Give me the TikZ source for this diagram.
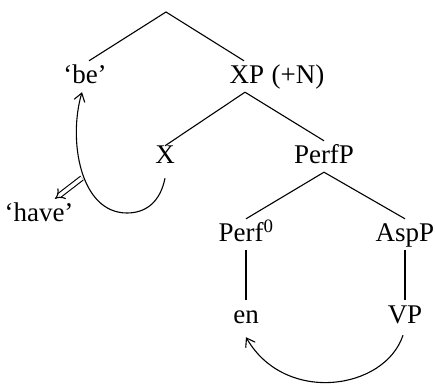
\documentclass[tikz,border=0pt]{standalone}
\usepackage{fontspec}
\setmainfont{Liberation Serif}
\usetikzlibrary{arrows.meta}
\begin{document}
\begin{tikzpicture}[x=1pt,y=1pt,
  lbl/.style={font=\fontsize{27}{32}\selectfont, inner xsep=2pt, inner ysep=3pt,
              text height=20pt, text depth=5pt, anchor=base},
  edge/.style={line width=1.1pt},
  mv/.style={line width=1.1pt, -{Straight Barb[length=8pt,width=11pt,line width=1.1pt]}},
  dbl/.style={double, double distance=3.5pt, line width=1.1pt, -{Implies[length=9pt,width=16pt]}}]
\useasboundingbox (0,0) rectangle (435,385);
% nodes
\coordinate (root) at (166,373);
\node[lbl] (be) at (85,301) {‘be’};
\node[lbl] (xp) at (247,301) {XP};
\node[lbl, anchor=base west, inner xsep=0pt] (xpn) at ([xshift=5pt]xp.base east) {(+N)};
\node[lbl] (x) at (165,221) {X};
\node[lbl] (perfp) at (324,221) {PerfP};
\node[lbl] (perf) at (246,143) {Perf\textsuperscript{0}};
\node[lbl] (asp) at (405,143) {AspP};
\node[lbl] (en) at (246,62) {en};
\node[lbl] (vp) at (405,62) {VP};
\node[lbl] (have) at (39,163) {‘have’};
% tree edges
\draw[edge] ([xshift=4pt]be.north) -- (root) -- ([xshift=-3pt]xp.north);
\draw[edge] ([xshift=-2pt]xp.south) -- ([yshift=-5pt]x.north);
\draw[edge] ([xshift=-2pt]xp.south) -- (perfp.north);
\draw[edge] (perf.north) -- (perfp.south) -- (asp.north);
\draw[edge] (perf.south) -- (en.north);
\draw[edge] (asp.south) -- (vp.north);
% movement arrows
\coordinate (xs) at ([yshift=-6pt]x.south);
\draw[mv] (xs) .. controls (160,182) and (145,172) .. (127,172)
   .. controls (80,172) and (68,245) .. ([xshift=-3pt]be.south);
\coordinate (vs) at ([xshift=-2pt,yshift=-4pt]vp.south);
\draw[mv] (vs) .. controls (385,-5) and (285,-20) .. ([yshift=-6pt]en.south);
\coordinate (dt) at (82,207);
\draw[dbl] (dt) -- ([xshift=16pt]have.north);
\end{tikzpicture}
\end{document}
